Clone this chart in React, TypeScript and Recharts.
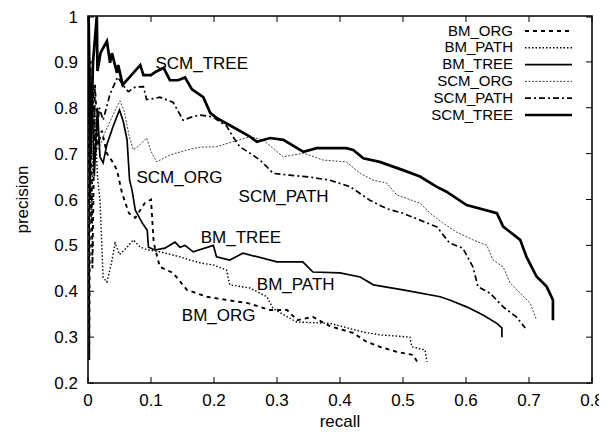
import { LineChart, Line, XAxis, YAxis, Legend, ReferenceArea, ReferenceDot } from "recharts";

// tick labels
const recallTicks = [0, 0.1, 0.2, 0.3, 0.4, 0.5, 0.6, 0.7, 0.8];
const precisionTicks = [0.2, 0.3, 0.4, 0.5, 0.6, 0.7, 0.8, 0.9, 1];

// values (recall, precision)
const bmOrgRecall = [0.001, 0.002, 0.004, 0.007, 0.011, 0.016, 0.022, 0.03, 0.04, 0.046, 0.054, 0.065, 0.075, 0.09, 0.1, 0.104, 0.106, 0.114, 0.135, 0.157, 0.189, 0.22, 0.254, 0.289, 0.316, 0.332, 0.357, 0.384, 0.421, 0.442, 0.463, 0.49, 0.516, 0.524];
const bmOrgPrecision = [1.0, 0.25, 0.9, 0.45, 0.85, 0.72, 0.75, 0.7, 0.68, 0.664, 0.614, 0.57, 0.56, 0.592, 0.6, 0.512, 0.496, 0.453, 0.44, 0.403, 0.388, 0.381, 0.374, 0.359, 0.359, 0.337, 0.344, 0.324, 0.309, 0.29, 0.279, 0.268, 0.261, 0.243];

const bmPathRecall = [0.001, 0.005, 0.01, 0.015, 0.019, 0.024, 0.03, 0.037, 0.043, 0.05, 0.062, 0.072, 0.083, 0.095, 0.114, 0.146, 0.162, 0.178, 0.199, 0.22, 0.225, 0.257, 0.284, 0.294, 0.331, 0.384, 0.437, 0.463, 0.511, 0.514, 0.535, 0.538];
const bmPathPrecision = [1.0, 0.55, 0.8, 0.65, 0.6, 0.43, 0.42, 0.46, 0.505, 0.48, 0.496, 0.512, 0.496, 0.49, 0.486, 0.475, 0.468, 0.462, 0.457, 0.446, 0.414, 0.407, 0.388, 0.362, 0.333, 0.33, 0.311, 0.305, 0.3, 0.279, 0.272, 0.246];

const bmTreeRecall = [0.001, 0.003, 0.006, 0.01, 0.015, 0.019, 0.024, 0.03, 0.04, 0.05, 0.056, 0.062, 0.066, 0.07, 0.075, 0.086, 0.094, 0.096, 0.106, 0.122, 0.138, 0.146, 0.154, 0.167, 0.199, 0.204, 0.225, 0.246, 0.3, 0.341, 0.357, 0.4, 0.432, 0.453, 0.5, 0.559, 0.574, 0.601, 0.627, 0.649, 0.657, 0.657];
const bmTreePrecision = [1.0, 0.6, 0.85, 0.65, 0.8, 0.693, 0.68, 0.72, 0.76, 0.795, 0.77, 0.73, 0.642, 0.62, 0.577, 0.549, 0.533, 0.496, 0.49, 0.494, 0.507, 0.496, 0.5, 0.486, 0.5, 0.475, 0.468, 0.483, 0.464, 0.464, 0.442, 0.44, 0.431, 0.414, 0.403, 0.388, 0.381, 0.366, 0.348, 0.33, 0.32, 0.3];

const scmOrgRecall = [0.001, 0.003, 0.006, 0.01, 0.016, 0.025, 0.035, 0.045, 0.051, 0.058, 0.065, 0.072, 0.083, 0.093, 0.1, 0.109, 0.13, 0.157, 0.178, 0.204, 0.23, 0.257, 0.278, 0.295, 0.31, 0.342, 0.373, 0.41, 0.432, 0.453, 0.474, 0.49, 0.527, 0.543, 0.563, 0.585, 0.611, 0.633, 0.643, 0.659, 0.67, 0.686, 0.702, 0.712];
const scmOrgPrecision = [1.0, 0.7, 0.88, 0.75, 0.707, 0.74, 0.77, 0.8, 0.815, 0.79, 0.74, 0.708, 0.72, 0.734, 0.705, 0.682, 0.697, 0.708, 0.714, 0.715, 0.726, 0.737, 0.73, 0.71, 0.693, 0.701, 0.686, 0.682, 0.657, 0.642, 0.636, 0.61, 0.592, 0.57, 0.549, 0.529, 0.512, 0.5, 0.468, 0.453, 0.418, 0.396, 0.374, 0.337];

const scmPathRecall = [0.001, 0.004, 0.008, 0.012, 0.018, 0.024, 0.035, 0.047, 0.055, 0.064, 0.075, 0.088, 0.093, 0.105, 0.114, 0.135, 0.151, 0.165, 0.178, 0.198, 0.22, 0.23, 0.241, 0.257, 0.273, 0.284, 0.294, 0.32, 0.352, 0.384, 0.416, 0.448, 0.474, 0.5, 0.527, 0.554, 0.574, 0.595, 0.611, 0.619, 0.638, 0.659, 0.68, 0.694];
const scmPathPrecision = [1.0, 0.75, 0.85, 0.7, 0.8, 0.773, 0.83, 0.867, 0.85, 0.835, 0.845, 0.846, 0.818, 0.82, 0.823, 0.812, 0.773, 0.78, 0.784, 0.78, 0.76, 0.737, 0.715, 0.701, 0.686, 0.671, 0.657, 0.653, 0.649, 0.642, 0.628, 0.598, 0.58, 0.57, 0.555, 0.54, 0.505, 0.494, 0.453, 0.41, 0.396, 0.366, 0.344, 0.32];

const scmTreeRecall = [0.001, 0.004, 0.008, 0.014, 0.015, 0.02, 0.03, 0.035, 0.038, 0.046, 0.048, 0.055, 0.083, 0.088, 0.1, 0.107, 0.12, 0.13, 0.143, 0.154, 0.165, 0.183, 0.194, 0.204, 0.23, 0.257, 0.268, 0.289, 0.31, 0.342, 0.363, 0.41, 0.421, 0.437, 0.463, 0.5, 0.527, 0.553, 0.569, 0.601, 0.649, 0.659, 0.686, 0.696, 0.712, 0.728, 0.738, 0.738];
const scmTreePrecision = [1.0, 0.7, 0.9, 1.0, 0.88, 0.92, 0.945, 0.898, 0.919, 0.876, 0.893, 0.85, 0.893, 0.871, 0.871, 0.878, 0.887, 0.86, 0.86, 0.866, 0.84, 0.823, 0.789, 0.778, 0.758, 0.737, 0.726, 0.734, 0.73, 0.704, 0.712, 0.712, 0.708, 0.69, 0.682, 0.664, 0.65, 0.628, 0.617, 0.588, 0.57, 0.541, 0.512, 0.475, 0.432, 0.41, 0.381, 0.337];

// in-plot labels, left edge at (recall, precision)
const annotationText = ["SCM_TREE", "SCM_ORG", "SCM_PATH", "BM_TREE", "BM_PATH", "BM_ORG"];
const annotationRecall = [0.107, 0.077, 0.239, 0.179, 0.268, 0.149];
const annotationPrecision = [0.898, 0.649, 0.608, 0.518, 0.416, 0.348];

const pts = (r: number[], p: number[]) => r.map((v, i) => ({ r: v, p: p[i] }));

const FONT = "'Liberation Sans', Arial, sans-serif";
const FS = 17;
const LEGEND_FS = 15;
const PLOT_W = 504;
const PLOT_H = 367;

const series = [
  { name: "BM_ORG", data: pts(bmOrgRecall, bmOrgPrecision), dash: "4 4", width: 1.9, color: "#000" },
  { name: "BM_PATH", data: pts(bmPathRecall, bmPathPrecision), dash: "1.5 2", width: 1.4, color: "#000" },
  { name: "BM_TREE", data: pts(bmTreeRecall, bmTreePrecision), dash: undefined, width: 1.7, color: "#000" },
  { name: "SCM_ORG", data: pts(scmOrgRecall, scmOrgPrecision), dash: "2 1.5", width: 1, color: "#444" },
  { name: "SCM_PATH", data: pts(scmPathRecall, scmPathPrecision), dash: "6 3 2 3", width: 1.7, color: "#000" },
  { name: "SCM_TREE", data: pts(scmTreeRecall, scmTreePrecision), dash: undefined, width: 2.7, color: "#000" },
];

function XTick(props: any) {
  const { x, y, payload } = props;
  return (
    <g>
      <line x1={x} y1={y} x2={x} y2={y - 6} stroke="#000" />
      <line x1={x} y1={y - PLOT_H} x2={x} y2={y - PLOT_H + 6} stroke="#000" />
      <text x={x} y={y + 23} textAnchor="middle" fontSize={FS} fontFamily={FONT} fill="#000">
        {String(payload.value)}
      </text>
    </g>
  );
}

function YTick(props: any) {
  const { x, y, payload } = props;
  return (
    <g>
      <line x1={x} y1={y} x2={x + 6} y2={y} stroke="#000" />
      <line x1={x + PLOT_W} y1={y} x2={x + PLOT_W - 6} y2={y} stroke="#000" />
      <text x={x - 10} y={y + 6} textAnchor="end" fontSize={FS} fontFamily={FONT} fill="#000">
        {String(payload.value)}
      </text>
    </g>
  );
}

function LegendBox(props: any) {
  const items = props.payload || [];
  return (
    <svg width={180} height={115}>
      {items.map((it: any, i: number) => {
        const s = series.find((d) => d.name === it.value);
        const cy = 12 + i * 16.8;
        return (
          <g key={it.value}>
            <text x={105} y={cy + 5.5} textAnchor="end" fontSize={LEGEND_FS} fontFamily={FONT} fill="#000">
              {it.value}
            </text>
            <line x1={117} y1={cy + 1} x2={164} y2={cy + 1} stroke={s?.color}
              strokeWidth={s?.width} strokeDasharray={s?.dash} />
          </g>
        );
      })}
    </svg>
  );
}

export default function App() {
  return (
    <div style={{ width: 599, height: 424, fontFamily: FONT }}>
      <LineChart width={599} height={424} margin={{ top: 8, right: 15, bottom: 0, left: 0 }}>
        <XAxis
          dataKey="r"
          type="number"
          domain={[0, 0.8]}
          ticks={recallTicks}
          allowDataOverflow
          height={49}
          axisLine={false}
          tickSize={0}
          tickMargin={0}
          tick={<XTick />}
          label={{ value: "recall", position: "insideBottom", offset: 5, fontSize: FS, fill: "#000", fontFamily: FONT }}
        />
        <YAxis
          dataKey="p"
          type="number"
          domain={[0.2, 1]}
          ticks={precisionTicks}
          allowDataOverflow
          width={80}
          axisLine={false}
          tickSize={0}
          tickMargin={0}
          tick={<YTick />}
          label={{ value: "precision", angle: -90, position: "insideLeft", offset: 14, fontSize: FS, fill: "#000", fontFamily: FONT, style: { textAnchor: "middle" } }}
        />
        <ReferenceArea x1={0} x2={0.8} y1={0.2} y2={1} fill="none" stroke="#000" strokeWidth={1.5} ifOverflow="visible" />
        {series.map((s) => (
          <Line
            key={s.name}
            name={s.name}
            data={s.data}
            dataKey="p"
            type="linear"
            stroke={s.color}
            strokeWidth={s.width}
            strokeDasharray={s.dash}
            dot={false}
            isAnimationActive={false}
          />
        ))}
        {annotationText.map((t, i) => (
          <ReferenceDot
            key={t}
            x={annotationRecall[i]}
            y={annotationPrecision[i]}
            r={0}
            ifOverflow="visible"
            shape={(p: any) => (
              <text x={p.cx} y={p.cy + 6} fontSize={FS} fontFamily={FONT} fill="#000">
                {t}
              </text>
            )}
          />
        ))}
        <Legend
          layout="vertical"
          align="center"
          verticalAlign="middle"
          wrapperStyle={{ top: 10, left: 400, width: 180, height: 115 }}
          content={<LegendBox />}
        />
      </LineChart>
    </div>
  );
}
